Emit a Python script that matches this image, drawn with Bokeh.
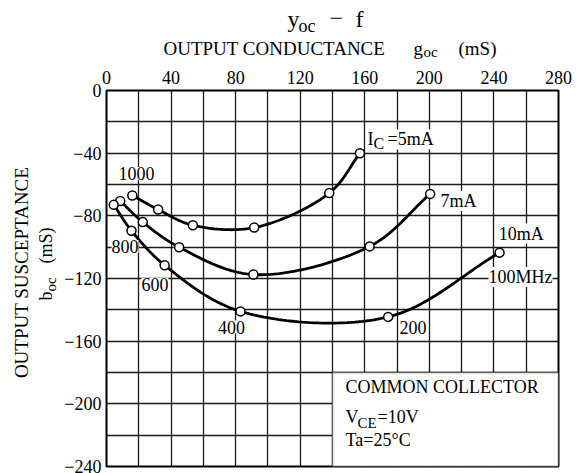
import numpy as np
from bokeh.plotting import figure
from bokeh.models import Label, BoxAnnotation, FixedTicker, Range1d
from bokeh.layouts import row, column
from bokeh.embed import file_html
from bokeh.resources import INLINE

# ---------------- data ----------------
freq_mhz = [1000, 800, 600, 400, 200, 100]

g_5mA = [16.0, 32.0, 53.5, 91.5, 138.0, 157.0]
b_5mA = [-67.0, -76.0, -86.0, -87.5, -65.5, -40.0]

g_7mA = [8.5, 22.5, 45.0, 91.0, 163.0, 200.5]
b_7mA = [-70.5, -84.0, -100.0, -117.5, -99.5, -66.0]

g_10mA = [4.5, 15.5, 36.0, 83.0, 174.5, 243.5]
b_10mA = [-73.0, -89.5, -111.5, -141.0, -144.5, -103.5]

x_ticks = [0, 40, 80, 120, 160, 200, 240, 280]
y_ticks = [0, -40, -80, -120, -160, -200, -240]
grid_step = 20

FONT = "Liberation Serif"
TOTAL_W, TOTAL_H = 580, 473
LEFT_W = 58      # strip holding the y-axis title
HEAD_H = 60      # strip holding the chart title and x-axis title
BL, BR, BT, BB = 48, 22, 30, 7   # borders of the main chart
FRAME_X0 = LEFT_W + BL           # page x of frame left
FRAME_X1 = TOTAL_W - BR          # page x of frame right


def smooth(xs, ys, n=40, alpha=0.5):
    """Centripetal Catmull-Rom curve through the measured points."""
    P = np.column_stack([xs, ys]).astype(float)
    P = np.vstack([2 * P[0] - P[1], P, 2 * P[-1] - P[-2]])
    out = []
    for i in range(1, len(P) - 2):
        p0, p1, p2, p3 = P[i - 1], P[i], P[i + 1], P[i + 2]
        t0 = 0.0
        t1 = t0 + np.linalg.norm(p1 - p0) ** alpha
        t2 = t1 + np.linalg.norm(p2 - p1) ** alpha
        t3 = t2 + np.linalg.norm(p3 - p2) ** alpha
        t = np.linspace(t1, t2, n)[:, None]
        A1 = (t1 - t) / (t1 - t0) * p0 + (t - t0) / (t1 - t0) * p1
        A2 = (t2 - t) / (t2 - t1) * p1 + (t - t1) / (t2 - t1) * p2
        A3 = (t3 - t) / (t3 - t2) * p2 + (t - t2) / (t3 - t2) * p3
        B1 = (t2 - t) / (t2 - t0) * A1 + (t - t0) / (t2 - t0) * A2
        B2 = (t3 - t) / (t3 - t1) * A2 + (t - t1) / (t3 - t1) * A3
        C = (t2 - t) / (t2 - t1) * B1 + (t - t1) / (t2 - t1) * B2
        out.append(C if i == 1 else C[1:])
    C = np.vstack(out)
    return C[:, 0], C[:, 1]


def lab(fig, x, y, text, size="18px", align="left", bg=True, angle=0.0):
    kw = dict(x=x, y=y, text=text, text_font=FONT, text_font_size=size,
              text_align=align, text_baseline="middle", text_color="black",
              angle=angle)
    if bg:
        kw["background_fill_color"] = "white"
    fig.add_layout(Label(**kw))


def blank(w, h, x0, x1, bl=0, br=0):
    f = figure(width=w, height=h, x_range=Range1d(x0, x1), y_range=Range1d(h, 0),
               x_axis_type=None, y_axis_type=None, title=None,
               output_backend="svg", toolbar_location=None,
               min_border=0, min_border_left=bl, min_border_right=br)
    f.outline_line_color = None
    f.background_fill_color = "white"
    f.border_fill_color = "white"
    return f


# ---------------- main chart ----------------
MAIN_W, MAIN_H = TOTAL_W - LEFT_W, TOTAL_H - HEAD_H
p = figure(width=MAIN_W, height=MAIN_H, title=None,
           x_range=Range1d(x_ticks[0], x_ticks[-1]),
           y_range=Range1d(y_ticks[-1], y_ticks[0]),
           x_axis_location="above",
           output_backend="svg", toolbar_location=None,
           min_border_left=BL, min_border_right=BR,
           min_border_top=BT, min_border_bottom=BB)
p.background_fill_color = "white"
p.border_fill_color = "white"
p.outline_line_color = "black"
p.outline_line_width = 2

p.xgrid.ticker = FixedTicker(ticks=list(range(x_ticks[0], x_ticks[-1] + 1, grid_step)))
p.ygrid.ticker = FixedTicker(ticks=list(range(y_ticks[-1], y_ticks[0] + 1, grid_step)))
for gr in (p.xgrid, p.ygrid):
    gr.grid_line_color = "#1a1a1a"
    gr.grid_line_width = 1.3

p.xaxis.ticker = FixedTicker(ticks=x_ticks)
p.yaxis.ticker = FixedTicker(ticks=y_ticks)
p.yaxis.major_label_overrides = {t: ("0" if t == 0 else "\u2212" + str(-t)) for t in y_ticks}
for ax in (p.xaxis, p.yaxis):
    ax.axis_line_color = None
    ax.major_tick_line_color = None
    ax.minor_tick_line_color = None
    ax.major_tick_out = 0
    ax.major_tick_in = 0
    ax.minor_tick_out = 0
    ax.minor_tick_in = 0
    ax.major_label_text_font = FONT
    ax.major_label_text_font_size = "18px"
    ax.major_label_text_color = "black"
p.xaxis.major_label_standoff = 7
p.yaxis.major_label_standoff = 5

for gs, bs in ((g_5mA, b_5mA), (g_7mA, b_7mA), (g_10mA, b_10mA)):
    sx, sy = smooth(gs, bs)
    p.line(sx, sy, line_color="black", line_width=2.8)
    p.scatter(gs, bs, size=9, fill_color="white", line_color="black", line_width=1.5)

p.add_layout(BoxAnnotation(left=140, right=280, bottom=-240, top=-180,
                           fill_color="white", fill_alpha=1.0,
                           line_color="black", line_width=1.8))

# frequency labels
lab(p, 18.6, -53.0, str(freq_mhz[0]), align="center")
lab(p, 11.5, -99.5, str(freq_mhz[1]), align="center")
lab(p, 30.0, -123.8, str(freq_mhz[2]), align="center")
lab(p, 77.4, -151.0, str(freq_mhz[3]), align="center")
lab(p, 189.9, -151.0, str(freq_mhz[4]), align="center")
lab(p, 256.5, -119.0, f"{freq_mhz[5]}MHz", align="center")

# current labels
lab(p, 165.4, -33.6, "C", size="16px")
lab(p, 161.7, -31.2, "I")
lab(p, 174.1, -31.2, "=5mA")
lab(p, 218.0, -70.5, "7mA", align="center")
lab(p, 257.0, -91.3, "10mA", align="center")

# conditions box text
lab(p, 148.1, -189.5, "COMMON COLLECTOR", bg=False)
lab(p, 148.1, -208.7, "V", bg=False)
lab(p, 155.5, -212.5, "CE", size="15px", bg=False)
lab(p, 167.9, -208.7, "=10V", bg=False)
lab(p, 148.1, -223.3, "Ta=25\u00b0C", bg=False)

# ---------------- header strip (x, y in page pixels) ----------------
head = blank(MAIN_W, HEAD_H, FRAME_X0, FRAME_X1, bl=BL, br=BR)
lab(head, 287, 18, "y", size="24px", bg=False)
lab(head, 298, 25, "oc", size="18px", bg=False)
lab(head, 329, 18, "\u2212", size="24px", bg=False)
lab(head, 355, 18, "f", size="24px", bg=False)

lab(head, 163, 47.5, "OUTPUT CONDUCTANCE", size="19px", bg=False)
lab(head, 413, 47.5, "g", size="19px", bg=False)
lab(head, 423, 51.5, "oc", size="15px", bg=False)
lab(head, 458, 47.5, "(mS)", size="19px", bg=False)

# ---------------- left strip: y-axis title (page pixels) ----------------
left = blank(LEFT_W, TOTAL_H, 0, LEFT_W)
rot = np.pi / 2
lab(left, 20.5, 272, "OUTPUT SUSCEPTANCE", size="19px", align="center", bg=False, angle=rot)
lab(left, 45, 300, "b", size="18px", bg=False, angle=rot)
lab(left, 50, 291, "oc", size="15px", bg=False, angle=rot)
lab(left, 45, 263, "(mS)", size="18px", bg=False, angle=rot)

layout = row(left, column(head, p, spacing=0), spacing=0)
open("out.html", "w").write(file_html(layout, INLINE))
